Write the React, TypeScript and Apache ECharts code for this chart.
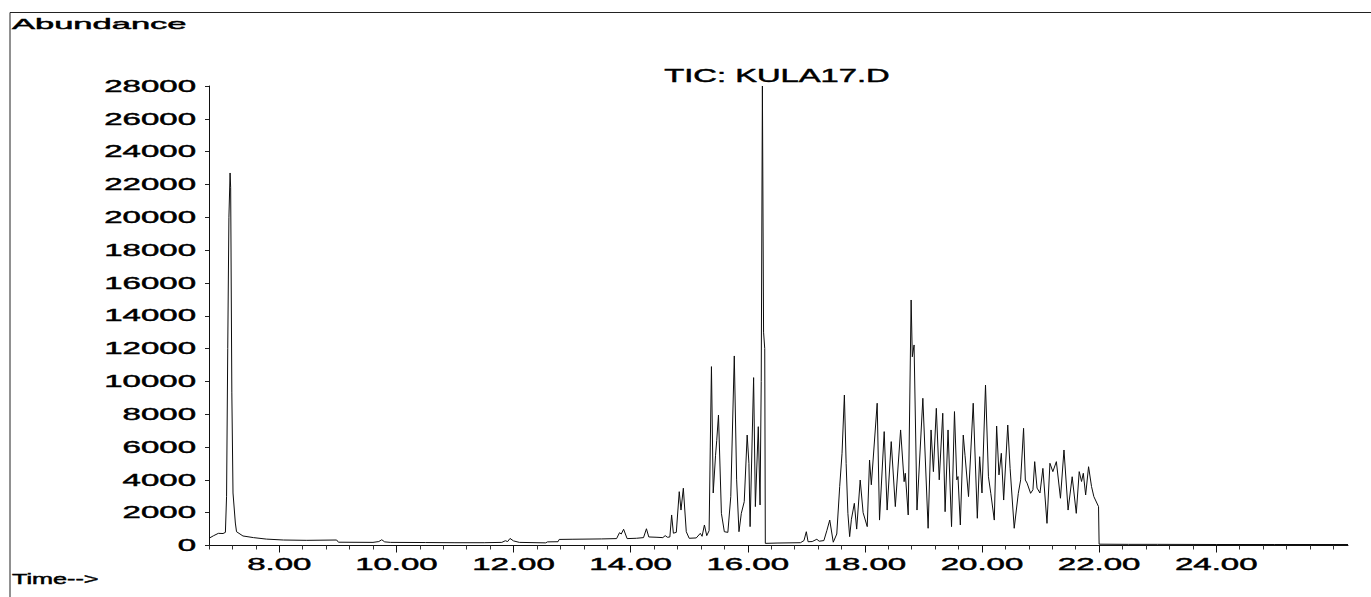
import React, { useEffect, useRef } from "react";
import * as echarts from "echarts";

// Total ion chromatogram, retention time (min) vs abundance, split into runs of peaks.
const solventFront: [number, number][] = [
  [6.8, 440], [6.88, 600], [6.96, 740], [7.04, 730], [7.08, 800], [7.1, 3000],
  [7.12, 12000], [7.14, 20000], [7.16, 22700], [7.17, 21800], [7.19, 9300],
  [7.21, 3200], [7.25, 1370], [7.27, 840], [7.38, 580], [7.56, 480], [7.78, 390],
  [8.07, 335], [8.47, 315], [8.98, 335], [9.01, 200], [9.6, 190], [9.7, 240],
  [9.75, 350], [9.8, 220], [9.9, 190], [10.5, 180], [11.0, 170], [11.5, 170],
  [11.8, 190], [11.86, 290], [11.9, 240], [11.94, 430], [12.0, 280], [12.1, 190],
  [12.55, 160], [12.58, 220], [12.76, 230], [12.78, 370], [13.0, 380], [13.5, 400],
];

const earlyCluster: [number, number][] = [
  [13.76, 420], [13.81, 780], [13.84, 700], [13.88, 990], [13.94, 420], [14.1, 440],
  [14.22, 480], [14.27, 1020], [14.31, 520], [14.45, 500], [14.55, 480], [14.59, 600],
  [14.63, 500], [14.67, 520], [14.7, 1860], [14.73, 750], [14.78, 800], [14.83, 3280],
  [14.86, 2160], [14.9, 3490], [14.95, 840], [15.0, 440], [15.12, 460], [15.19, 740],
  [15.22, 560], [15.26, 1250], [15.3, 600], [15.34, 900], [15.36, 6000], [15.38, 10900],
  [15.41, 3200], [15.45, 5500], [15.47, 6400], [15.5, 7950], [15.55, 1960], [15.6, 840],
  [15.66, 800], [15.71, 2980], [15.77, 11550], [15.81, 4000], [15.85, 840], [15.89, 1960],
  [15.94, 2670], [15.99, 6730], [16.02, 5000], [16.04, 1150], [16.1, 10230], [16.13, 2370],
  [16.18, 7240], [16.21, 2470], [16.23, 10000], [16.25, 28000], [16.27, 13000],
  [16.29, 12000], [16.3, 130], [16.5, 150], [16.9, 170],
];

const lateCluster: [number, number][] = [
  [16.96, 300], [17.0, 840], [17.03, 230], [17.1, 240], [17.18, 380], [17.22, 260],
  [17.3, 300], [17.35, 900], [17.4, 1550], [17.46, 200], [17.52, 700], [17.57, 3590],
  [17.61, 5620], [17.65, 9170], [17.68, 5000], [17.71, 1960], [17.74, 540], [17.77, 1600],
  [17.82, 2570], [17.86, 1000], [17.92, 3990], [17.97, 2000], [18.04, 1150], [18.08, 5210],
  [18.11, 3700], [18.21, 8670], [18.25, 1550], [18.33, 6940], [18.38, 2160], [18.45, 6330],
  [18.52, 2370], [18.61, 7040], [18.67, 3890], [18.69, 4400], [18.74, 1860], [18.79, 14960],
  [18.81, 11500], [18.84, 12220], [18.89, 2160], [18.99, 8970], [19.08, 1050], [19.13, 7040],
  [19.17, 4500], [19.22, 8360], [19.27, 4000], [19.33, 8060], [19.37, 2060], [19.42, 7040],
  [19.48, 1150], [19.53, 8160], [19.57, 4000], [19.59, 4200], [19.63, 1250], [19.68, 6730],
  [19.71, 5500], [19.77, 2980], [19.85, 8670], [19.92, 1660], [19.96, 5410], [20.0, 3200],
  [20.06, 9780], [20.11, 4190], [20.15, 3180], [20.21, 1550], [20.25, 7280], [20.29, 4300],
  [20.33, 5620], [20.37, 2770], [20.44, 7340], [20.48, 4700], [20.55, 1050], [20.62, 3180],
  [20.66, 4000], [20.71, 7140], [20.74, 3990], [20.77, 3800], [20.83, 3180], [20.87, 3400],
  [20.9, 5110], [20.94, 3500], [20.99, 3200], [21.04, 4700], [21.11, 1350], [21.16, 5010],
  [21.21, 4500], [21.27, 5110], [21.34, 2880], [21.4, 5820], [21.47, 2160], [21.54, 4190],
  [21.61, 1960], [21.66, 4500], [21.7, 3900], [21.73, 4400], [21.77, 3080], [21.82, 4800],
  [21.87, 3600], [21.91, 2980], [21.99, 2370],
];

const tailBaseline: [number, number][] = [
  [22.0, 80], [22.5, 70], [23.0, 70], [24.0, 60], [25.0, 60], [26.25, 60],
];

const timeLabels = [8, 10, 12, 14, 16, 18, 20, 22, 24];
const abundanceLabels = [0, 2000, 4000, 6000, 8000, 10000, 12000, 14000, 16000, 18000, 20000, 22000, 24000, 26000, 28000];

const TIME_MIN = 6.8;
const TIME_MAX = 26.25;
const MINOR_STEP = 0.4;

const FONT = '"Liberation Sans", Arial, Helvetica, sans-serif';

// Wide, slightly heavy lettering.
function label(text: string, x: number, y: number, fontSize: number, scaleX: number, align: string) {
  return {
    type: "text",
    x,
    y,
    scaleX,
    style: {
      text,
      fontSize,
      fontFamily: FONT,
      fill: "#000",
      stroke: "#000",
      lineWidth: 0.45,
      align,
      verticalAlign: "middle",
    },
  };
}

export default function App() {
  const ref = useRef<HTMLDivElement>(null);

  useEffect(() => {
    if (!ref.current) return;
    const chart = echarts.init(ref.current, undefined, { renderer: "svg" });

    const minorTicks: number[] = [];
    for (let k = 0; TIME_MIN + k * MINOR_STEP <= 26.01; k++) {
      const v = Math.round((TIME_MIN + k * MINOR_STEP) * 100) / 100;
      if (!timeLabels.includes(v)) minorTicks.push(v);
    }

    const trace = [...solventFront, ...earlyCluster, ...lateCluster, ...tailBaseline];

    chart.setOption({
      animation: false,
      backgroundColor: "#ffffff",
      grid: { left: 209, right: 23, top: 86, bottom: 51.5, containLabel: false },
      xAxis: [
        {
          type: "value",
          min: TIME_MIN,
          max: TIME_MAX,
          axisLine: { show: true, lineStyle: { color: "#111", width: 1 } },
          axisTick: { show: true, customValues: timeLabels, length: 7, lineStyle: { color: "#111" } },
          axisLabel: { show: false },
          splitLine: { show: false },
        },
        {
          type: "value",
          min: TIME_MIN,
          max: TIME_MAX,
          position: "bottom",
          axisLine: { show: false },
          axisTick: { show: true, customValues: minorTicks, length: 4, lineStyle: { color: "#333" } },
          axisLabel: { show: false },
          splitLine: { show: false },
        },
      ],
      yAxis: {
        type: "value",
        min: 0,
        max: 28000,
        interval: 2000,
        axisLine: { show: true, lineStyle: { color: "#111", width: 1 } },
        axisTick: { show: true, length: 4, lineStyle: { color: "#222" } },
        axisLabel: { show: false },
        splitLine: { show: false },
      },
      series: [
        {
          type: "line",
          xAxisIndex: 0,
          data: trace,
          showSymbol: false,
          symbol: "none",
          lineStyle: { color: "#0d0d0d", width: 1 },
          silent: true,
        },
      ],
    });

    // Axis numbers placed from the axis scales.
    const texts: any[] = [];
    abundanceLabels.forEach((v) => {
      const y = chart.convertToPixel({ yAxisIndex: 0 }, v) as number;
      texts.push(label(String(v), 196, y, 16.5, 2.0, "right"));
    });
    timeLabels.forEach((t) => {
      const x = chart.convertToPixel({ xAxisIndex: 0 }, t) as number;
      texts.push(label(t.toFixed(2), x, 564, 16.5, 2.0, "center"));
    });

    chart.setOption({
      graphic: [
        { type: "line", shape: { x1: 10, y1: 12.5, x2: 1371, y2: 12.5 }, style: { stroke: "#222", lineWidth: 1 } },
        { type: "line", shape: { x1: 10, y1: 12.5, x2: 10, y2: 597 }, style: { stroke: "#222", lineWidth: 1 } },
        label("Abundance", 12, 24, 15, 2.3, "left"),
        label("TIC: KULA17.D", 777, 76, 17.5, 1.87, "center"),
        label("Time-->", 12, 579, 14, 1.8, "left"),
        ...texts,
      ],
    });

    return () => chart.dispose();
  }, []);

  return (
    <div
      ref={ref}
      style={{ position: "fixed", left: 0, top: 0, width: 1371, height: 597, background: "#fff" }}
    />
  );
}
